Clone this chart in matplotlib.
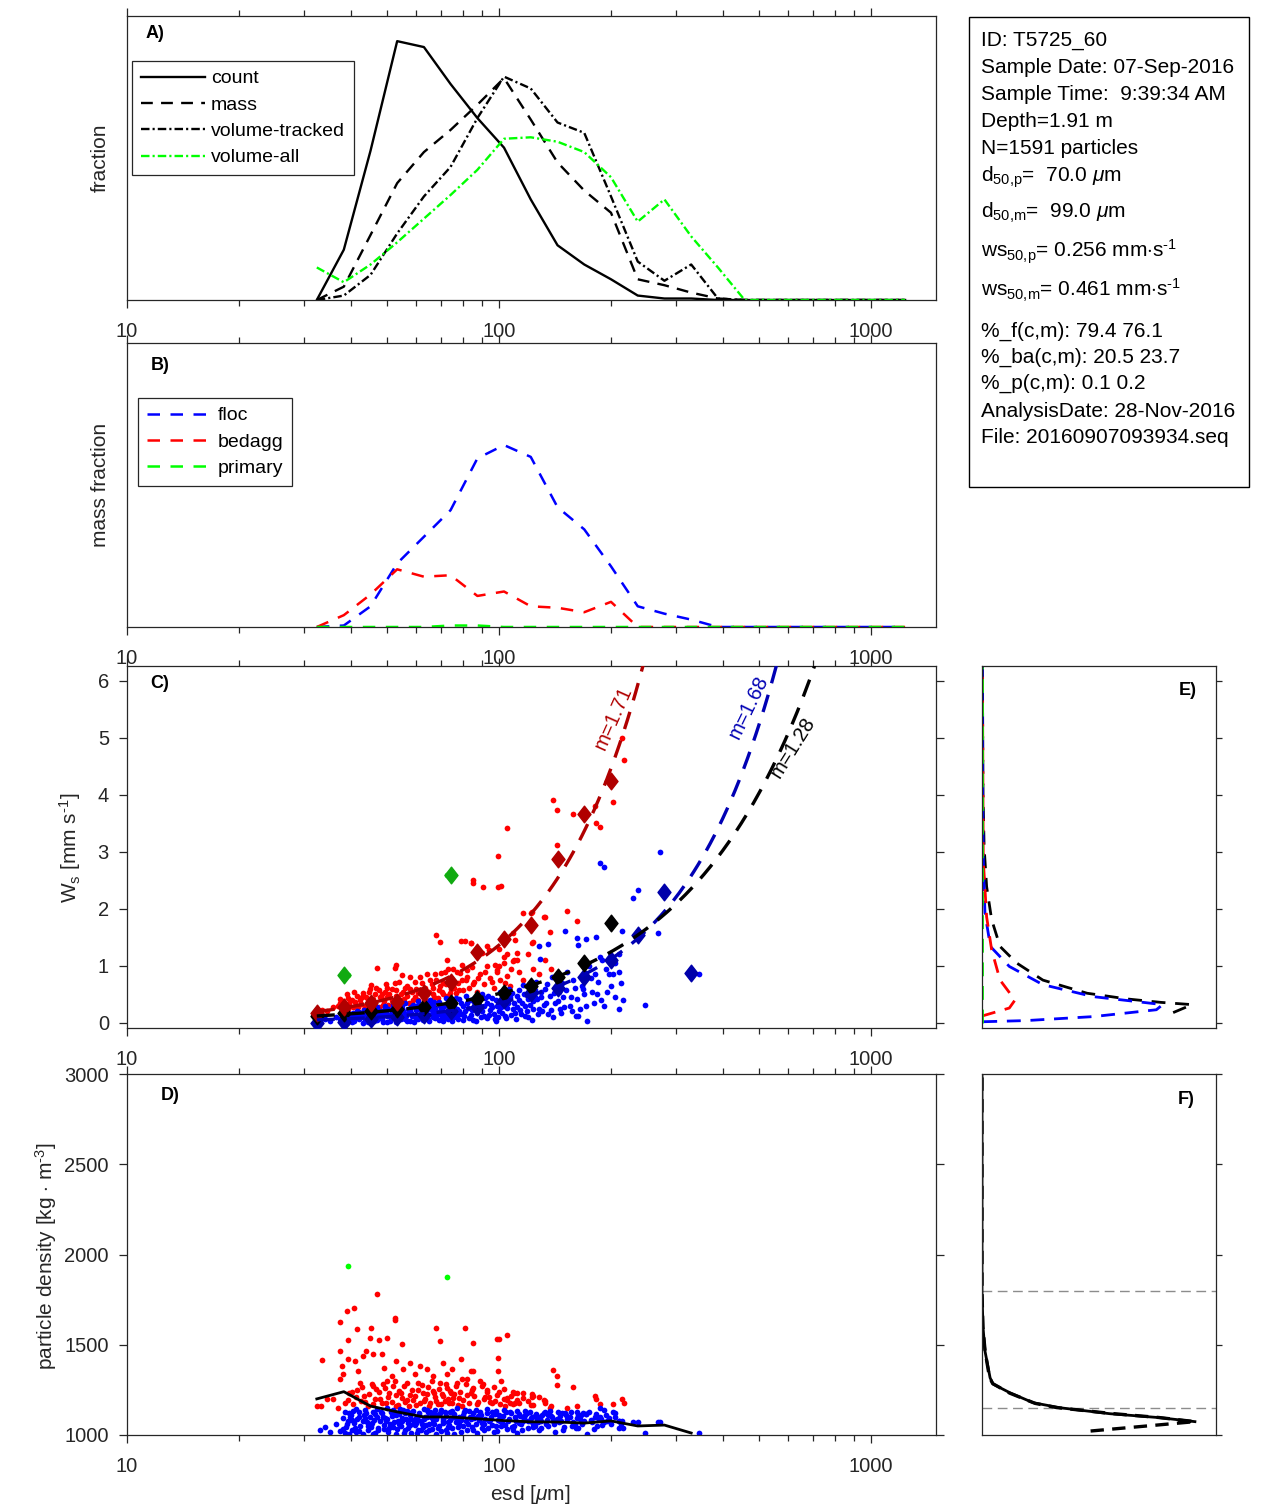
import numpy as np
import matplotlib
matplotlib.use('Agg')
import matplotlib.pyplot as plt
from matplotlib.path import Path
from matplotlib.patches import Rectangle
from matplotlib.ticker import LogLocator, NullFormatter, FixedLocator

plt.rcParams['font.family'] = ['Liberation Sans', 'DejaVu Sans']
plt.rcParams['mathtext.fontset'] = 'custom'
plt.rcParams['mathtext.rm'] = 'Liberation Sans'
plt.rcParams['mathtext.it'] = 'Liberation Sans:italic'
plt.rcParams['mathtext.bf'] = 'Liberation Sans:bold'

# ---------------- data ----------------
bins = [32.4, 38.3, 45.2, 53.3, 62.9, 74.2, 87.6, 103.3, 121.9, 143.9, 169.8, 200.4,
        236.5, 279.0, 329.3, 388.6, 458.6, 541.2, 638.7, 753.7, 889.5, 1049.7, 1238.8]

count_pct = [0, 3.4, 10.1, 17.5, 17.1, 14.6, 12.3, 10.3, 6.8, 3.7, 2.4, 1.4, 0.3, 0.1, 0.1,
             0, 0, 0, 0, 0, 0, 0, 0]
mass_pct = [0, 0.9, 4.4, 7.9, 10.0, 11.5, 13.2, 15.0, 12.2, 9.3, 7.4, 5.9, 1.4, 1.0, 0.5,
            0.1, 0, 0, 0, 0, 0, 0, 0]
voltr_pct = [0, 0.3, 1.7, 4.5, 7.0, 9.0, 12.3, 15.1, 14.3, 12.0, 11.3, 7.0, 2.6, 1.3, 2.4,
             0.1, 0, 0, 0, 0, 0, 0, 0]
volall_pct = [2.2, 1.2, 2.4, 3.9, 5.5, 7.1, 8.8, 10.9, 11.0, 10.7, 10.0, 8.3, 5.3, 6.8, 4.3,
              2.2, 0, 0, 0, 0, 0, 0, 0]

floc_mass = [0, 0.1, 1.4, 4.3, 6.1, 7.9, 11.4, 12.3, 11.5, 8.1, 6.6, 4.1, 1.4, 0.9, 0.5,
             0, 0, 0, 0, 0, 0, 0, 0]
bedagg_mass = [0, 0.8, 2.2, 3.9, 3.4, 3.5, 2.1, 2.4, 1.4, 1.3, 1.0, 1.7, 0, 0, 0,
               0, 0, 0, 0, 0, 0, 0, 0]
primary_mass = [0, 0, 0, 0, 0, 0.1, 0.1, 0, 0, 0, 0, 0, 0, 0, 0,
                0, 0, 0, 0, 0, 0, 0, 0]

# per-bin medians of settling velocity [mm/s]
floc_med_ws = [0.0, 0.02, 0.07, 0.10, 0.14, 0.20, 0.28, 0.40, 0.52, 0.61, 0.81, 1.10, 1.54, 2.30, 0.87]
all_med_ws = [0.12, 0.18, 0.20, 0.24, 0.27, 0.35, 0.41, 0.52, 0.64, 0.80, 1.05, 1.75]
bedagg_med_ws = [0.18, 0.28, 0.34, 0.37, 0.52, 0.71, 1.25, 1.47, 1.71, 2.87, 3.67, 4.25]
primary_med_esd = [38.3, 74.2]
primary_med_ws = [0.84, 2.60]

# power-law fits ws = a*(d/d0)^m
fit_d0 = 32.4
fit_bedagg = (0.198, 1.71)
fit_floc = (0.0525, 1.68)
fit_all = (0.121, 1.28)

# per-bin median particle density [kg/m3]
rho_med = [1200, 1240, 1160, 1128, 1100, 1100, 1090, 1080, 1073, 1072, 1066, 1078, 1050, 1055, 1011]

# individual particles: (esd [um], ws [mm/s], density [kg/m3])
floc_pts = [
    (35.1, 0.04, 1018), (37.4, 0.06, 1022), (36.5, 0.10, 1060), (33.0, 0.02, 1030), (34.0, 0.07, 1045),
    (38.5, 0.02, 1010), (38.8, 0.08, 1045), (39.2, 0.12, 1080), (39.5, 0.05, 1120), (39.8, 0.15, 1100),
    (40.2, 0.10, 1030), (40.5, 0.18, 1135), (40.8, 0.03, 1065), (41.2, 0.13, 1015), (41.6, 0.20, 1090),
    (42.0, 0.07, 1125), (42.4, 0.16, 1050), (43.0, 0.10, 1005), (43.4, 0.22, 1110), (43.8, 0.04, 1140),
    (44.2, 0.17, 1070), (44.6, 0.12, 1025), (45.0, 0.25, 1100), (45.4, 0.08, 1055), (45.8, 0.19, 1130),
    (46.2, 0.03, 1085), (46.6, 0.14, 1010), (47.0, 0.28, 1145), (47.4, 0.10, 1040), (48.0, 0.21, 1075),
    (48.5, 0.06, 1120), (49.0, 0.16, 1035), (49.5, 0.30, 1095), (50.0, 0.12, 1150), (50.5, 0.24, 1015),
    (51.0, 0.04, 1060), (51.5, 0.19, 1105), (52.0, 0.33, 1045), (52.5, 0.09, 1130), (53.0, 0.22, 1005),
    (53.5, 0.15, 1080), (54.0, 0.28, 1115), (54.6, 0.06, 1050), (55.2, 0.20, 1140), (55.8, 0.35, 1025),
    (56.4, 0.12, 1090), (57.0, 0.25, 1065), (57.6, 0.03, 1110), (58.2, 0.18, 1010), (58.8, 0.31, 1135),
    (59.4, 0.10, 1055), (60.0, 0.22, 1095), (60.6, 0.38, 1030), (61.2, 0.14, 1120), (61.8, 0.27, 1075),
    (62.4, 0.05, 1045), (63.0, 0.20, 1145), (63.6, 0.34, 1015), (64.2, 0.11, 1100), (64.8, 0.24, 1060),
    (65.4, 0.40, 1130), (66.0, 0.16, 1035), (66.7, 0.30, 1085), (67.4, 0.08, 1115), (68.0, 0.21, 1005),
    (69, 0.36, 1050), (70, 0.13, 1140), (71, 0.27, 1090), (72, 0.44, 1025), (73, 0.06, 1070),
    (74, 0.19, 1125), (75, 0.33, 1040), (76, 0.10, 1100), (77, 0.24, 1150), (78, 0.41, 1060),
    (79, 0.15, 1015), (80, 0.30, 1110), (81.5, 0.48, 1080), (83, 0.09, 1135), (84.5, 0.22, 1045),
    (86, 0.37, 1095), (87.5, 0.17, 1010), (89, 0.28, 1125), (90, 0.50, 1065), (91.5, 0.12, 1030),
    (93, 0.35, 1145), (94.5, 0.23, 1085), (96, 0.44, 1055), (97.5, 0.07, 1115), (99, 0.30, 1020),
    (100.5, 0.55, 1100), (102, 0.18, 1070), (103.5, 0.40, 1140), (105, 0.26, 1035), (106.5, 0.60, 1090),
    (108, 0.13, 1120), (110, 0.34, 1050), (112, 0.48, 1010), (114, 0.22, 1105), (116, 0.66, 1075),
    (118, 0.30, 1135), (120, 0.10, 1040), (122, 0.52, 1095), (124, 0.38, 1060), (126, 0.72, 1115),
    (128, 0.25, 1025), (130, 0.45, 1080), (133, 0.60, 1130), (136, 0.15, 1050), (139, 0.80, 1100),
    (142, 0.35, 1015), (145, 0.55, 1070), (148, 0.70, 1120), (150, 0.28, 1045), (153, 0.90, 1090),
    (156, 0.45, 1130), (160, 0.62, 1060), (163, 0.12, 1040), (166, 0.80, 1110), (170, 0.50, 1075),
    (175, 1.00, 1125), (180, 0.35, 1035), (185, 0.72, 1095), (190, 1.10, 1055), (196, 0.55, 1080),
    (203, 0.85, 1130), (210, 1.20, 1075), (216, 0.40, 1040),
    (38.2, 0.12, 1095), (39.0, 0.00, 1060), (40.0, 0.07, 1110), (41.0, 0.16, 1040), (42.0, 0.11, 1100),
    (43.2, 0.00, 1075), (44.0, 0.08, 1120), (45.2, 0.14, 1045), (46.0, 0.21, 1005), (47.0, 0.05, 1100),
    (48.2, 0.13, 1130), (49.2, 0.23, 1055), (50.2, 0.02, 1090), (51.2, 0.10, 1125), (52.2, 0.26, 1070),
    (53.2, 0.05, 1035), (54.2, 0.14, 1145), (55.0, 0.26, 1075), (56.0, 0.07, 1120), (57.0, 0.17, 1040),
    (58.0, 0.28, 1090), (59.0, 0.01, 1070), (60.2, 0.13, 1010), (61.0, 0.30, 1110), (62.0, 0.19, 1060),
    (63.2, 0.09, 1100), (64.0, 0.28, 1140), (65.0, 0.03, 1025), (66.0, 0.23, 1120), (67.0, 0.36, 1060),
    (68.0, 0.12, 1090), (69.0, 0.05, 1110), (70.0, 0.22, 1020), (71.0, 0.10, 1065), (72.0, 0.32, 1105),
    (73.0, 0.17, 1045), (74.0, 0.40, 1085), (75.0, 0.03, 1135), (76.0, 0.26, 1005), (77.0, 0.13, 1075),
    (78.0, 0.20, 1100), (80.0, 0.05, 1050), (81.0, 0.20, 1140), (82.0, 0.34, 1030), (84.0, 0.14, 1090),
    (85.0, 0.42, 1120), (87.0, 0.04, 1060), (88.0, 0.30, 1105), (90.0, 0.20, 1040), (92.0, 0.43, 1090),
    (94.0, 0.14, 1075), (96.0, 0.28, 1130), (98.0, 0.04, 1050), (100.0, 0.20, 1110), (101.0, 0.36, 1080),
    (104.0, 0.12, 1055), (107.0, 0.45, 1125), (109.0, 0.24, 1030), (111.0, 0.07, 1080), (113.0, 0.40, 1115),
    (115.0, 0.15, 1060), (117.0, 0.50, 1095), (119.0, 0.20, 1120), (121.0, 0.32, 1075), (123.0, 0.05, 1100),
    (125.0, 0.58, 1050), (127.0, 0.42, 1090), (131.0, 0.20, 1110), (134.0, 0.35, 1060), (137.0, 0.48, 1135),
    (140.0, 0.10, 1080), (143.0, 0.62, 1090), (146.0, 0.25, 1105), (149.0, 0.45, 1030), (155.0, 0.30, 1100),
    (158.0, 0.75, 1070), (165.0, 0.25, 1090), (168.0, 0.60, 1120), (178.0, 0.55, 1070), (182.0, 0.85, 1100),
    (188.0, 0.40, 1090), (194.0, 0.95, 1110), (200.0, 0.65, 1060), (206.0, 1.05, 1100),
    (38.0, 0.05, 1035), (38.6, 0.16, 1125), (39.6, 0.09, 1005), (40.4, 0.02, 1085), (41.4, 0.08, 1145),
    (42.2, 0.19, 1020), (43.6, 0.15, 1095), (44.4, 0.01, 1050), (45.6, 0.22, 1065), (46.4, 0.09, 1115),
    (47.2, 0.18, 1030), (48.8, 0.02, 1100), (49.8, 0.20, 1080), (50.8, 0.14, 1040), (51.8, 0.27, 1140),
    (52.8, 0.02, 1110), (53.8, 0.11, 1060), (54.8, 0.32, 1095), (55.6, 0.16, 1010), (56.8, 0.04, 1135),
    (57.8, 0.22, 1055), (58.6, 0.12, 1125), (59.8, 0.30, 1065), (60.8, 0.07, 1085), (61.6, 0.22, 1030),
    (62.8, 0.33, 1090), (63.8, 0.15, 1055), (64.6, 0.06, 1125), (65.8, 0.32, 1100), (66.4, 0.11, 1065),
    (67.2, 0.26, 1140), (68.6, 0.17, 1040), (69.6, 0.29, 1120), (70.6, 0.04, 1080), (71.6, 0.18, 1130),
    (72.6, 0.09, 1010), (73.6, 0.38, 1055), (74.6, 0.14, 1095), (75.6, 0.28, 1115), (76.6, 0.43, 1070),
    (77.6, 0.07, 1045), (79.2, 0.35, 1085), (80.6, 0.12, 1125), (82.5, 0.26, 1060), (83.8, 0.40, 1100),
    (85.5, 0.05, 1030), (86.8, 0.24, 1140), (88.5, 0.45, 1085), (89.8, 0.10, 1110), (91.0, 0.30, 1060),
    (92.8, 0.08, 1120), (93.8, 0.47, 1040), (95.2, 0.32, 1100), (96.8, 0.15, 1015), (98.4, 0.40, 1135),
    (99.6, 0.10, 1085), (101.5, 0.28, 1050), (102.8, 0.48, 1105), (104.5, 0.08, 1125), (105.8, 0.35, 1075),
    (108.5, 0.52, 1045), (110.5, 0.18, 1100), (111.8, 0.28, 1135), (113.5, 0.58, 1065), (115.5, 0.35, 1025),
    (117.5, 0.12, 1110), (119.5, 0.42, 1080), (121.5, 0.62, 1130), (123.5, 0.25, 1045), (125.5, 0.45, 1105),
    (127.5, 0.15, 1070), (129.5, 0.55, 1040), (132, 0.32, 1120), (135, 0.68, 1085), (138, 0.22, 1105),
    (141, 0.52, 1060), (144, 0.38, 1130), (147, 0.18, 1075), (152, 0.58, 1110), (157, 0.20, 1050),
    (162, 0.42, 1095), (167, 0.65, 1060), (172, 0.30, 1115), (177, 0.78, 1085), (184, 0.50, 1050),
    (192, 0.30, 1070), (198, 0.85, 1095), (205, 0.45, 1120), (213, 0.70, 1060),
    (128, 1.35, 1100), (136, 1.38, 1110), (129, 1.12, 1095), (151, 1.62, 1120), (162, 1.49, 1125),
    (172, 1.47, 1115), (183, 1.50, 1118), (163, 1.37, 1110), (187.5, 2.81, 1148), (192, 2.74, 1139),
    (237, 2.33, 1074), (230, 2.19, 1070), (268, 1.57, 1074), (215, 1.62, 1078), (211, 0.24, 1040),
    (248, 0.32, 1013), (173, 0.04, 1007), (161, 0.12, 1040), (272, 3.00, 1074), (345, 0.85, 1009),
    (211, 0.90, 1078), (187, 1.15, 1100),
]

bedagg_pts = [
    (32.5, 0.17, 1160), (33.4, 0.22, 1414), (34.5, 0.20, 1200), (35.9, 0.28, 1198), (37.0, 0.30, 1151),
    (37.4, 0.42, 1626), (37.4, 0.35, 1465), (37.8, 0.25, 1382), (38.2, 0.38, 1336), (37.4, 0.33, 1308),
    (39.0, 0.50, 1687), (39.4, 0.44, 1525), (39.4, 0.30, 1419), (40.8, 0.55, 1702), (41.0, 0.36, 1410),
    (41.5, 0.48, 1589), (41.8, 0.28, 1355), (42.3, 0.40, 1290), (43.2, 0.52, 1438), (44.0, 0.45, 1465),
    (45.1, 0.60, 1539), (45.3, 0.66, 1594), (46.0, 0.34, 1447), (46.0, 0.42, 1271), (46.9, 0.96, 1783),
    (47.7, 0.58, 1525), (48.5, 0.50, 1447), (49.0, 0.38, 1373), (50.0, 0.62, 1536), (50.0, 0.45, 1299),
    (51.5, 0.40, 1327), (52.5, 0.97, 1639), (52.7, 0.70, 1650), (53.0, 1.02, 1410), (53.0, 0.48, 1220),
    (55.0, 0.84, 1502), (55.4, 0.55, 1364), (57.6, 0.60, 1400), (59.6, 0.46, 1336), (61.5, 0.58, 1382),
    (64.0, 0.50, 1364), (66.7, 0.62, 1327), (68.0, 1.54, 1594), (69.5, 1.41, 1521), (71.0, 0.70, 1400),
    (72.5, 1.10, 1336), (74.7, 0.75, 1364), (79.0, 1.44, 1419), (79.5, 1.02, 1308), (81.0, 1.44, 1594),
    (82.0, 0.80, 1308), (84.0, 1.40, 1355), (85.5, 2.51, 1511), (85.5, 2.45, 1355),
    (38.5, 0.22, 1180), (39.5, 0.35, 1230), (40.5, 0.27, 1170), (41.5, 0.20, 1250), (42.5, 0.33, 1190),
    (43.5, 0.25, 1215), (44.5, 0.40, 1160), (45.5, 0.30, 1280), (46.5, 0.50, 1200), (47.5, 0.28, 1240),
    (48.5, 0.42, 1175), (49.5, 0.55, 1260), (50.5, 0.32, 1210), (51.5, 0.60, 1185), (52.5, 0.38, 1300),
    (53.5, 0.30, 1165), (54.5, 0.50, 1230), (55.5, 0.42, 1270), (56.5, 0.65, 1195), (57.5, 0.35, 1160),
    (58.5, 0.55, 1250), (59.5, 0.72, 1215), (60.5, 0.40, 1290), (61.5, 0.80, 1175), (62.5, 0.48, 1235),
    (63.5, 0.62, 1200), (64.5, 0.38, 1265), (65.5, 0.75, 1180), (66.5, 0.50, 1245), (67.5, 0.85, 1210),
    (68.5, 0.44, 1170), (69.5, 0.65, 1290), (70.5, 0.55, 1225), (71.5, 0.90, 1190), (72.5, 0.48, 1260),
    (73.5, 0.78, 1175), (74.5, 0.60, 1230), (75.5, 0.95, 1205), (76.5, 0.52, 1270), (77.5, 0.70, 1165),
    (78.5, 0.88, 1240), (80.0, 0.58, 1195), (81.5, 0.76, 1280), (83.0, 0.62, 1180), (84.5, 0.98, 1250),
    (86.0, 0.72, 1215), (87.5, 0.55, 1170), (89.0, 0.85, 1300), (91.0, 0.68, 1200), (93.0, 1.00, 1240),
    (95.0, 0.78, 1185), (97.0, 0.62, 1265), (99.0, 0.92, 1220), (101.0, 0.75, 1170), (103.0, 1.05, 1255),
    (105.0, 0.82, 1195), (107.0, 0.65, 1180), (110.0, 1.10, 1230), (113.0, 0.90, 1175), (116.0, 0.75, 1205),
    (120.0, 1.20, 1190), (124.0, 0.95, 1165), (128.0, 0.85, 1210), (133.0, 1.10, 1180), (138.0, 0.95, 1160),
    (39.2, 0.25, 1195), (40.2, 0.40, 1240), (41.2, 0.32, 1210), (42.8, 0.45, 1265), (43.8, 0.30, 1185),
    (44.8, 0.55, 1225), (45.8, 0.38, 1170), (46.8, 0.62, 1255), (47.8, 0.45, 1200), (48.8, 0.32, 1285),
    (49.8, 0.68, 1180), (50.8, 0.50, 1235), (51.8, 0.35, 1270), (52.8, 0.58, 1160), (53.8, 0.72, 1245),
    (54.8, 0.40, 1205), (55.8, 0.62, 1185), (56.8, 0.48, 1290), (57.8, 0.80, 1220), (58.8, 0.40, 1195),
    (59.8, 0.60, 1165), (60.8, 0.52, 1250), (62.0, 0.70, 1275), (63.0, 0.42, 1190), (64.0, 0.85, 1225),
    (65.0, 0.55, 1160), (66.0, 0.68, 1300), (67.0, 0.45, 1235), (68.0, 0.75, 1190), (69.0, 0.58, 1255),
    (70.0, 0.88, 1170), (71.0, 0.50, 1215), (72.0, 0.68, 1280), (73.0, 0.95, 1200), (74.0, 0.52, 1245),
    (75.0, 0.72, 1180), (76.0, 0.62, 1225), (77.0, 0.90, 1290), (78.0, 0.58, 1205), (79.5, 0.75, 1160),
    (82.0, 0.92, 1220), (85.0, 0.68, 1260), (88.0, 0.78, 1185), (92.0, 0.90, 1210), (96.0, 0.72, 1175),
    (100.0, 1.00, 1240), (104.0, 0.70, 1160), (108.0, 0.95, 1215),
    (90.7, 2.38, 1283), (99.7, 2.92, 1428), (99.7, 2.38, 1356), (105.5, 3.42, 1554), (84.0, 1.40, 1230),
    (93.0, 1.34, 1250), (94.0, 1.28, 1210), (90.0, 1.23, 1270), (97.8, 1.02, 1190), (105.0, 1.21, 1203),
    (109.0, 1.08, 1238), (112.0, 1.23, 1234), (116.0, 1.93, 1231), (123.0, 1.95, 1225), (123.0, 1.40, 1210),
    (133.0, 1.86, 1188), (137.0, 1.60, 1151), (109.0, 1.58, 1173), (140.0, 3.91, 1358), (143.0, 3.74, 1327),
    (143.0, 3.12, 1277), (158.0, 3.67, 1266), (181.0, 3.80, 1216), (183.0, 3.50, 1199), (187.0, 3.43, 1173),
    (203.0, 3.88, 1173), (215.0, 5.00, 1201), (217.0, 4.61, 1176), (122.0, 1.92, 1166), (132.0, 1.85, 1192),
    (153.0, 1.97, 1148), (162.0, 1.78, 1160), (110.6, 1.46, 1179), (103.0, 1.16, 1200), (124.0, 1.41, 1215),
    (112.0, 1.10, 1192), (101.5, 2.40, 1300), (33.3, 0.15, 1161), (100.0, 1.30, 1530), (98.7, 0.90, 1530),
]

primary_pts = [(39.4, 0.84, 1936), (72.5, 2.60, 1877)]

# panel E: pdf of settling velocity (pdf normalised, ws)
e_black_ws = [0.18, 0.32, 0.36, 0.42, 0.52, 0.75, 1.05, 1.34, 1.81, 2.39, 3.09, 4.0, 6.25]
e_black_pdf = [0.91, 1.0, 0.85, 0.69, 0.50, 0.29, 0.165, 0.086, 0.046, 0.022, 0.010, 0.005, 0.002]
e_blue_ws = [0.02, 0.04, 0.11, 0.23, 0.32, 0.38, 0.46, 0.67, 0.99, 1.34, 1.93, 2.9, 4.0, 6.25]
e_blue_pdf = [0.006, 0.21, 0.53, 0.83, 0.86, 0.72, 0.53, 0.29, 0.13, 0.04, 0.014, 0.006, 0.003, 0.001]
e_red_ws = [0.12, 0.26, 0.40, 0.75, 1.28, 1.86, 2.86, 6.25]
e_red_pdf = [0.0, 0.13, 0.157, 0.086, 0.046, 0.022, 0.006, 0.002]
e_green_ws = [0.0, 6.25]
e_green_pdf = [0.002, 0.002]

# panel F: pdf of particle density
f_solid_rho = [1074, 1096, 1118, 1151, 1179, 1234, 1282, 1317, 1465, 1594, 1780, 2200, 3000]
f_solid_pdf = [1.0, 0.835, 0.60, 0.366, 0.24, 0.131, 0.052, 0.038, 0.014, 0.005, 0.0, 0.0, 0.0]
f_dash_rho = [1022, 1074, 1097, 1120, 1152, 1175, 1232, 1285, 1320, 1460, 1600, 1800, 3000]
f_dash_pdf = [0.51, 1.0, 0.83, 0.60, 0.35, 0.25, 0.13, 0.05, 0.035, 0.015, 0.004, 0.0, 0.0]
f_ref_rho = [1800, 1150]

info_lines = [
    'ID: T5725_60',
    'Sample Date: 07-Sep-2016',
    'Sample Time:  9:39:34 AM',
    'Depth=1.91 m',
    'N=1591 particles',
    r'd$_{\text{50,p}}$=  70.0 $\mu$m',
    r'd$_{\text{50,m}}$=  99.0 $\mu$m',
    r'ws$_{\text{50,p}}$= 0.256 mm$\cdot$s$^{\text{-1}}$',
    r'ws$_{\text{50,m}}$= 0.461 mm$\cdot$s$^{\text{-1}}$',
    '%_f(c,m): 79.4 76.1',
    '%_ba(c,m): 20.5 23.7',
    '%_p(c,m): 0.1 0.2',
    'AnalysisDate: 28-Nov-2016',
    'File: 20160907093934.seq',
]

# ---------------- layout helpers ----------------
W, H = 1270, 1511
fig = plt.figure(figsize=(12.7, 15.11), dpi=100)
fig.patch.set_facecolor('white')

def rect(l, t, r, b):
    return [l / W, 1 - b / H, (r - l) / W, (b - t) / H]

def fx(x):
    return x / W

def fy(y):
    return 1 - y / H

AX = '#262626'
TICK = 14.5
LAB = 15

diamond = Path([(0, 1), (0.78, 0), (0, -1), (-0.78, 0), (0, 1)],
               [Path.MOVETO, Path.LINETO, Path.LINETO, Path.LINETO, Path.CLOSEPOLY])

def style(ax):
    for s in ax.spines.values():
        s.set_color(AX)
        s.set_linewidth(0.9)
    ax.tick_params(which='both', direction='out', color=AX, labelcolor=AX, width=0.9,
                   labelsize=TICK)
    ax.tick_params(which='major', length=6)
    ax.tick_params(which='minor', length=4)

def logx(ax):
    ax.set_xscale('log')
    ax.set_xlim(10, 1500)
    ax.xaxis.set_major_locator(FixedLocator([10, 100, 1000]))
    ax.set_xticklabels(['10', '100', '1000'])
    ax.xaxis.set_minor_locator(LogLocator(base=10, subs=range(2, 10), numticks=20))
    ax.xaxis.set_minor_formatter(NullFormatter())
    ax.tick_params(axis='x', which='both', top=True, bottom=True, labelbottom=True,
                   labeltop=False, pad=10)

bins_a = np.array(bins)

# ---------------- A ----------------
axA = fig.add_axes(rect(127, 16, 936, 300))
style(axA)
lw = 1.7
dd = (0, (3.6, 1.3, 0.9, 1.3))
axA.plot(bins_a, count_pct, color='k', lw=lw, ls='-', label='count')
axA.plot(bins_a, mass_pct, color='k', lw=lw, ls=(0, (5, 3.5)), label='mass')
axA.plot(bins_a, voltr_pct, color='k', lw=lw, ls=dd, label='volume-tracked')
axA.plot(bins_a, volall_pct, color='#00FF00', lw=lw, ls=dd, label='volume-all')
logx(axA)
axA.set_ylim(0, 19.2)
axA.tick_params(axis='y', left=False, right=False, labelleft=False)
legA = axA.legend(loc='upper left', bbox_to_anchor=(fx(132), fy(61)), bbox_transform=fig.transFigure,
                  borderaxespad=0, fontsize=14, handlelength=3.3, handletextpad=0.3,
                  labelspacing=0.45, borderpad=0.45, fancybox=False, framealpha=1,
                  edgecolor=AX)
legA.get_frame().set_linewidth(0.9)
fig.text(fx(146), fy(33), 'A)', fontsize=13, fontweight='bold', ha='left', va='center')
fig.text(fx(100), fy(158), 'fraction', fontsize=LAB, rotation=90, ha='center', va='center', color=AX)

# ---------------- B ----------------
axB = fig.add_axes(rect(127, 343, 936, 627))
style(axB)
lwb = 1.8
dashB = (0, (5.0, 4.2))
axB.plot(bins_a, floc_mass, color='#0000FF', lw=lwb, ls=dashB, label='floc')
axB.plot(bins_a, bedagg_mass, color='#FF0000', lw=lwb, ls=dashB, label='bedagg')
axB.plot(bins_a, primary_mass, color='#00FF00', lw=lwb, ls=dashB, label='primary')
logx(axB)
axB.set_ylim(0, 19.2)
axB.tick_params(axis='y', left=False, right=False, labelleft=False)
legB = axB.legend(loc='upper left', bbox_to_anchor=(fx(138), fy(398)), bbox_transform=fig.transFigure,
                  borderaxespad=0, fontsize=14, handlelength=3.2, handletextpad=0.45,
                  labelspacing=0.45, borderpad=0.45, fancybox=False, framealpha=1,
                  edgecolor=AX)
legB.get_frame().set_linewidth(0.9)
fig.text(fx(160), fy(366), 'B)', fontsize=13, fontweight='bold', ha='center', va='center')
fig.text(fx(100), fy(485), 'mass fraction', fontsize=LAB, rotation=90, ha='center', va='center', color=AX)

# ---------------- C ----------------
fl = np.array(floc_pts)
ba = np.array(bedagg_pts)
pr = np.array(primary_pts)

axC = fig.add_axes(rect(127, 666, 936, 1028))
style(axC)
ms = 17
axC.scatter(ba[:, 0], ba[:, 1], s=ms, c='#FF0000', linewidths=0, zorder=2)
axC.scatter(fl[:, 0], fl[:, 1], s=ms, c='#0000FF', linewidths=0, zorder=2)
axC.scatter(pr[:, 0], pr[:, 1], s=ms, c='#00FF00', linewidths=0, zorder=2)

dfit = np.logspace(np.log10(fit_d0), np.log10(1500), 300)
for (a, m), col in [(fit_bedagg, '#B00000'), (fit_floc, '#0000B4'), (fit_all, '#000000')]:
    axC.plot(dfit, a * (dfit / fit_d0) ** m, color=col, lw=2.4, ls=(0, (5.4, 3.6)), zorder=4)

axC.plot(bins_a[:len(floc_med_ws)], floc_med_ws, ls='none', marker=diamond, ms=12,
         color='#0000AA', zorder=3)
axC.plot(bins_a[:len(all_med_ws)], all_med_ws, ls='none', marker=diamond, ms=12,
         color='#000000', zorder=3)
axC.plot(bins_a[:len(bedagg_med_ws)], bedagg_med_ws, ls='none', marker=diamond, ms=12,
         color='#B00000', zorder=3)
axC.plot(primary_med_esd, primary_med_ws, ls='none', marker=diamond, ms=12,
         color='#11AA11', zorder=3)

axC.text(203, 5.35, 'm=1.71', color='#B00000', fontsize=14.5, rotation=66,
         ha='center', va='center', rotation_mode='anchor')
axC.text(469, 5.54, 'm=1.68', color='#0000B4', fontsize=14.5, rotation=64,
         ha='center', va='center', rotation_mode='anchor')
axC.text(619, 4.84, 'm=1.28', color='#000000', fontsize=14.5, rotation=58,
         ha='center', va='center', rotation_mode='anchor')

logx(axC)
axC.set_ylim(-0.09, 6.26)
axC.set_yticks([0, 1, 2, 3, 4, 5, 6])
axC.tick_params(axis='y', left=True, right=True, labelleft=True, labelright=False, pad=7)
fig.text(fx(160), fy(684), 'C)', fontsize=13, fontweight='bold', ha='center', va='center')
fig.text(fx(70), fy(848), r'W$_{\mathrm{s}}$ [mm s$^{\text{-1}}$]', fontsize=LAB, rotation=90,
         ha='center', va='center', color=AX)

# ---------------- D ----------------
axD = fig.add_axes(rect(127, 1074, 936, 1435))
style(axD)
axD.scatter(ba[:, 0], ba[:, 2], s=ms, c='#FF0000', linewidths=0, zorder=2)
axD.scatter(fl[:, 0], fl[:, 2], s=ms, c='#0000FF', linewidths=0, zorder=2)
axD.scatter(pr[:, 0], pr[:, 2], s=ms, c='#00FF00', linewidths=0, zorder=2)
axD.plot(bins_a[:len(rho_med)], rho_med, color='k', lw=2.0, zorder=4)
logx(axD)
axD.set_ylim(1000, 3000)
axD.set_yticks([1000, 1500, 2000, 2500, 3000])
axD.tick_params(axis='y', left=True, right=True, labelleft=True, labelright=False, pad=7)
fig.text(fx(170), fy(1096), 'D)', fontsize=13, fontweight='bold', ha='center', va='center')
fig.text(fx(46), fy(1256), r'particle density [kg $\cdot$ m$^{\text{-3}}$]', fontsize=LAB, rotation=90,
         ha='center', va='center', color=AX)
fig.text(fx(530), fy(1495), r'esd [$\mu$m]', fontsize=LAB, ha='center', va='center', color=AX)

# ---------------- E ----------------
axE = fig.add_axes(rect(982, 666, 1216, 1028))
style(axE)
dashE = (0, (5, 3.5))
axE.plot(e_black_pdf, e_black_ws, color='k', lw=2.0, ls=dashE)
axE.plot(e_blue_pdf, e_blue_ws, color='#0000FF', lw=2.0, ls=dashE)
axE.plot(e_red_pdf, e_red_ws, color='#FF0000', lw=2.0, ls=dashE)
axE.plot(e_green_pdf, e_green_ws, color='#00FF00', lw=2.0, ls=dashE)
axE.set_xlim(0, 1.114)
axE.set_ylim(-0.09, 6.26)
axE.set_xticks([])
axE.set_yticks([0, 1, 2, 3, 4, 5, 6])
axE.tick_params(axis='y', left=False, right=True, labelleft=False, labelright=False, length=4)
fig.text(fx(1188), fy(690), 'E)', fontsize=13, fontweight='bold', ha='center', va='center')

# ---------------- F ----------------
axF = fig.add_axes(rect(982, 1074, 1216, 1435))
style(axF)
for r in f_ref_rho:
    axF.axhline(r, color='#8C8C8C', lw=1.0, ls=(0, (7, 4)))
axF.plot(f_dash_pdf, f_dash_rho, color='k', lw=2.4, ls=(0, (4, 2.5)))
axF.plot(f_solid_pdf, f_solid_rho, color='k', lw=2.0, ls='-')
axF.set_xlim(0, 1.099)
axF.set_ylim(1000, 3000)
axF.set_xticks([])
axF.set_yticks([1000, 1500, 2000, 2500, 3000])
axF.tick_params(axis='y', left=False, right=True, labelleft=False, labelright=False, length=4)
fig.text(fx(1186), fy(1100), 'F)', fontsize=13, fontweight='bold', ha='center', va='center')

# ---------------- info box ----------------
fig.patches.append(Rectangle((fx(969), fy(487)), (1249 - 969) / W, (487 - 17) / H,
                             transform=fig.transFigure, fill=False, edgecolor='k', lw=1.0))
baselines = [46, 73, 100, 127, 154, 182, 218, 258, 297, 337, 363, 389, 417, 443]
for txt, yb in zip(info_lines, baselines):
    fig.text(fx(981), fy(yb), txt, fontsize=15, ha='left', va='baseline', color='k')

fig.savefig('out.png', dpi=100, facecolor='white')
